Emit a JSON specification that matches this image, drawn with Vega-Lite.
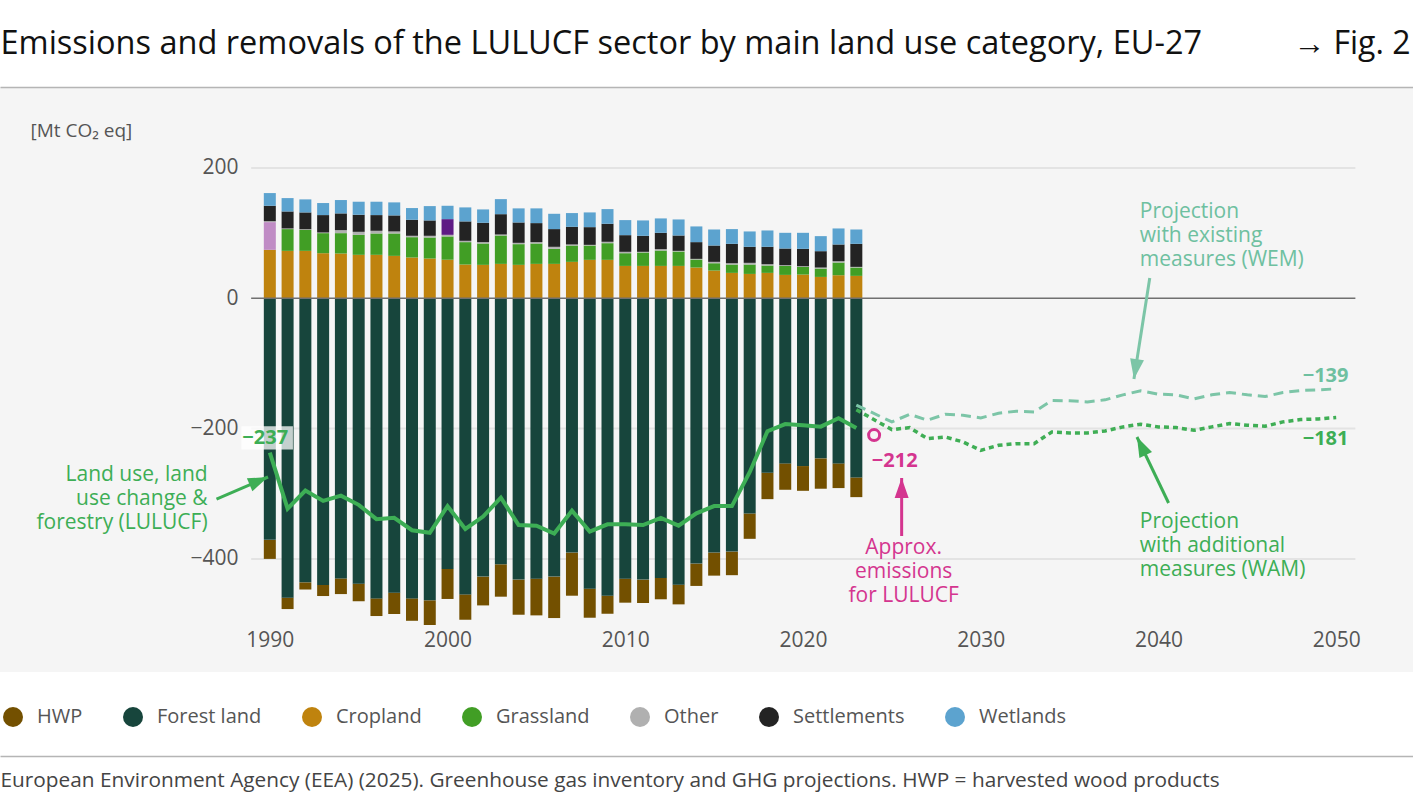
{
  "$schema": "https://vega.github.io/schema/vega-lite/v6.json",
  "width": 1413,
  "height": 585,
  "autosize": {"type": "none"},
  "padding": {"left": 0, "top": 87, "right": 0, "bottom": 135},
  "background": "#ffffff",
  "config": {"font": "Open Sans", "view": {"fill": "#f5f5f5", "stroke": null}},
  "datasets": {
    "sectors": [
      {"year":1990,"category":"HWP","value":-29.2},{"year":1990,"category":"Forest land","value":-370.8},{"year":1990,"category":"Cropland","value":74.4},{"year":1990,"category":"Grassland (selected)","value":42.5},{"year":1990,"category":"Other","value":1.5},{"year":1990,"category":"Settlements","value":23.6},{"year":1990,"category":"Wetlands","value":19.5},
      {"year":1991,"category":"HWP","value":-17.5},{"year":1991,"category":"Forest land","value":-459.5},{"year":1991,"category":"Cropland","value":72.8},{"year":1991,"category":"Grassland","value":33.4},{"year":1991,"category":"Other","value":1},{"year":1991,"category":"Settlements","value":26.1},{"year":1991,"category":"Wetlands","value":20.5},
      {"year":1992,"category":"HWP","value":-11},{"year":1992,"category":"Forest land","value":-436},{"year":1992,"category":"Cropland","value":72.8},{"year":1992,"category":"Grassland","value":32.2},{"year":1992,"category":"Other","value":1},{"year":1992,"category":"Settlements","value":25.8},{"year":1992,"category":"Wetlands","value":20},
      {"year":1993,"category":"HWP","value":-17},{"year":1993,"category":"Forest land","value":-440},{"year":1993,"category":"Cropland","value":69.2},{"year":1993,"category":"Grassland","value":30.8},{"year":1993,"category":"Other","value":1},{"year":1993,"category":"Settlements","value":26.7},{"year":1993,"category":"Wetlands","value":18.5},
      {"year":1994,"category":"HWP","value":-24},{"year":1994,"category":"Forest land","value":-430},{"year":1994,"category":"Cropland","value":68.7},{"year":1994,"category":"Grassland","value":31.3},{"year":1994,"category":"Other","value":4.6},{"year":1994,"category":"Settlements","value":25.7},{"year":1994,"category":"Wetlands","value":20.5},
      {"year":1995,"category":"HWP","value":-27},{"year":1995,"category":"Forest land","value":-438},{"year":1995,"category":"Cropland","value":66.7},{"year":1995,"category":"Grassland","value":30.7},{"year":1995,"category":"Other","value":4.6},{"year":1995,"category":"Settlements","value":26.2},{"year":1995,"category":"Wetlands","value":20},
      {"year":1996,"category":"HWP","value":-27.1},{"year":1996,"category":"Forest land","value":-460.6},{"year":1996,"category":"Cropland","value":66.7},{"year":1996,"category":"Grassland","value":32.8},{"year":1996,"category":"Other","value":4.1},{"year":1996,"category":"Settlements","value":24.1},{"year":1996,"category":"Wetlands","value":20.5},
      {"year":1997,"category":"HWP","value":-32.8},{"year":1997,"category":"Forest land","value":-451.8},{"year":1997,"category":"Cropland","value":65.1},{"year":1997,"category":"Grassland","value":34.4},{"year":1997,"category":"Other","value":3.1},{"year":1997,"category":"Settlements","value":24.6},{"year":1997,"category":"Wetlands","value":20},
      {"year":1998,"category":"HWP","value":-34.4},{"year":1998,"category":"Forest land","value":-460.6},{"year":1998,"category":"Cropland","value":62.6},{"year":1998,"category":"Grassland","value":31.2},{"year":1998,"category":"Other","value":2.1},{"year":1998,"category":"Settlements","value":24.6},{"year":1998,"category":"Wetlands","value":18},
      {"year":1999,"category":"HWP","value":-37.9},{"year":1999,"category":"Forest land","value":-463.6},{"year":1999,"category":"Cropland","value":61},{"year":1999,"category":"Grassland","value":32.3},{"year":1999,"category":"Other","value":2.6},{"year":1999,"category":"Settlements","value":23.6},{"year":1999,"category":"Wetlands","value":22},
      {"year":2000,"category":"HWP","value":-46.1},{"year":2000,"category":"Forest land","value":-415.4},{"year":2000,"category":"Cropland","value":59.2},{"year":2000,"category":"Grassland","value":35.7},{"year":2000,"category":"Other","value":2.5},{"year":2000,"category":"Settlements (selected)","value":24.1},{"year":2000,"category":"Wetlands","value":20.5},
      {"year":2001,"category":"HWP","value":-38.9},{"year":2001,"category":"Forest land","value":-454.5},{"year":2001,"category":"Cropland","value":51.8},{"year":2001,"category":"Grassland","value":34.4},{"year":2001,"category":"Other","value":2},{"year":2001,"category":"Settlements","value":29.8},{"year":2001,"category":"Wetlands","value":21.5},
      {"year":2002,"category":"HWP","value":-44.2},{"year":2002,"category":"Forest land","value":-427.2},{"year":2002,"category":"Cropland","value":51.3},{"year":2002,"category":"Grassland","value":32.8},{"year":2002,"category":"Other","value":2.1},{"year":2002,"category":"Settlements","value":29.7},{"year":2002,"category":"Wetlands","value":20.5},
      {"year":2003,"category":"HWP","value":-49.7},{"year":2003,"category":"Forest land","value":-408.3},{"year":2003,"category":"Cropland","value":52.8},{"year":2003,"category":"Grassland","value":43.6},{"year":2003,"category":"Other","value":1.5},{"year":2003,"category":"Settlements","value":31.2},{"year":2003,"category":"Wetlands","value":23.1},
      {"year":2004,"category":"HWP","value":-53.9},{"year":2004,"category":"Forest land","value":-431.8},{"year":2004,"category":"Cropland","value":51.3},{"year":2004,"category":"Grassland","value":31.8},{"year":2004,"category":"Other","value":2},{"year":2004,"category":"Settlements","value":31.3},{"year":2004,"category":"Wetlands","value":21.6},
      {"year":2005,"category":"HWP","value":-56.4},{"year":2005,"category":"Forest land","value":-430.3},{"year":2005,"category":"Cropland","value":52.8},{"year":2005,"category":"Grassland","value":31.3},{"year":2005,"category":"Other","value":2.1},{"year":2005,"category":"Settlements","value":29.2},{"year":2005,"category":"Wetlands","value":22.6},
      {"year":2006,"category":"HWP","value":-63.6},{"year":2006,"category":"Forest land","value":-427.2},{"year":2006,"category":"Cropland","value":52.8},{"year":2006,"category":"Grassland","value":23.1},{"year":2006,"category":"Other","value":3.1},{"year":2006,"category":"Settlements","value":27.2},{"year":2006,"category":"Wetlands","value":23.5},
      {"year":2007,"category":"HWP","value":-66.2},{"year":2007,"category":"Forest land","value":-390.3},{"year":2007,"category":"Cropland","value":55.9},{"year":2007,"category":"Grassland","value":25.1},{"year":2007,"category":"Other","value":1.6},{"year":2007,"category":"Settlements","value":27.1},{"year":2007,"category":"Wetlands","value":21.1},
      {"year":2008,"category":"HWP","value":-44.6},{"year":2008,"category":"Forest land","value":-445.7},{"year":2008,"category":"Cropland","value":59},{"year":2008,"category":"Grassland","value":22},{"year":2008,"category":"Other","value":1},{"year":2008,"category":"Settlements","value":27.2},{"year":2008,"category":"Wetlands","value":22.6},
      {"year":2009,"category":"HWP","value":-27.7},{"year":2009,"category":"Forest land","value":-456.5},{"year":2009,"category":"Cropland","value":59},{"year":2009,"category":"Grassland","value":25.6},{"year":2009,"category":"Other","value":2.1},{"year":2009,"category":"Settlements","value":27.7},{"year":2009,"category":"Wetlands","value":22.5},
      {"year":2010,"category":"HWP","value":-36.9},{"year":2010,"category":"Forest land","value":-430.3},{"year":2010,"category":"Cropland","value":49.7},{"year":2010,"category":"Grassland","value":19.5},{"year":2010,"category":"Other","value":2.1},{"year":2010,"category":"Settlements","value":25.6},{"year":2010,"category":"Wetlands","value":23.1},
      {"year":2011,"category":"HWP","value":-35.9},{"year":2011,"category":"Forest land","value":-431.8},{"year":2011,"category":"Cropland","value":49.7},{"year":2011,"category":"Grassland","value":20.6},{"year":2011,"category":"Other","value":1},{"year":2011,"category":"Settlements","value":24.6},{"year":2011,"category":"Wetlands","value":23.6},
      {"year":2012,"category":"HWP","value":-32.7},{"year":2012,"category":"Forest land","value":-429.3},{"year":2012,"category":"Cropland","value":49.7},{"year":2012,"category":"Grassland","value":23.6},{"year":2012,"category":"Other","value":2.1},{"year":2012,"category":"Settlements","value":25.1},{"year":2012,"category":"Wetlands","value":22.1},
      {"year":2013,"category":"HWP","value":-30.3},{"year":2013,"category":"Forest land","value":-439.5},{"year":2013,"category":"Cropland","value":49.7},{"year":2013,"category":"Grassland","value":22.1},{"year":2013,"category":"Other","value":1},{"year":2013,"category":"Settlements","value":23.6},{"year":2013,"category":"Wetlands","value":24.6},
      {"year":2014,"category":"HWP","value":-34.3},{"year":2014,"category":"Forest land","value":-407.2},{"year":2014,"category":"Cropland","value":47.2},{"year":2014,"category":"Grassland","value":12.3},{"year":2014,"category":"Other","value":1},{"year":2014,"category":"Settlements","value":25.7},{"year":2014,"category":"Wetlands","value":24.1},
      {"year":2015,"category":"HWP","value":-35.4},{"year":2015,"category":"Forest land","value":-390.3},{"year":2015,"category":"Cropland","value":42.6},{"year":2015,"category":"Grassland","value":11.2},{"year":2015,"category":"Other","value":2.1},{"year":2015,"category":"Settlements","value":25.1},{"year":2015,"category":"Wetlands","value":24.6},
      {"year":2016,"category":"HWP","value":-36.2},{"year":2016,"category":"Forest land","value":-388.8},{"year":2016,"category":"Cropland","value":39},{"year":2016,"category":"Grassland","value":12.8},{"year":2016,"category":"Other","value":2},{"year":2016,"category":"Settlements","value":29.8},{"year":2016,"category":"Wetlands","value":22.6},
      {"year":2017,"category":"HWP","value":-38.9},{"year":2017,"category":"Forest land","value":-330.3},{"year":2017,"category":"Cropland","value":37.4},{"year":2017,"category":"Grassland","value":14.4},{"year":2017,"category":"Other","value":2.6},{"year":2017,"category":"Settlements","value":24.6},{"year":2017,"category":"Wetlands","value":23.6},
      {"year":2018,"category":"HWP","value":-40.6},{"year":2018,"category":"Forest land","value":-267.7},{"year":2018,"category":"Cropland","value":39},{"year":2018,"category":"Grassland","value":11.3},{"year":2018,"category":"Other","value":2},{"year":2018,"category":"Settlements","value":26.7},{"year":2018,"category":"Wetlands","value":25.1},
      {"year":2019,"category":"HWP","value":-40.5},{"year":2019,"category":"Forest land","value":-253.4},{"year":2019,"category":"Cropland","value":35.9},{"year":2019,"category":"Grassland","value":13.8},{"year":2019,"category":"Other","value":1.1},{"year":2019,"category":"Settlements","value":25.6},{"year":2019,"category":"Wetlands","value":24.1},
      {"year":2020,"category":"HWP","value":-38},{"year":2020,"category":"Forest land","value":-257.5},{"year":2020,"category":"Cropland","value":36.4},{"year":2020,"category":"Grassland","value":11.8},{"year":2020,"category":"Other","value":1},{"year":2020,"category":"Settlements","value":26.7},{"year":2020,"category":"Wetlands","value":24.6},
      {"year":2021,"category":"HWP","value":-46.6},{"year":2021,"category":"Forest land","value":-245.7},{"year":2021,"category":"Cropland","value":32.8},{"year":2021,"category":"Grassland","value":12.8},{"year":2021,"category":"Other","value":1.6},{"year":2021,"category":"Settlements","value":25.1},{"year":2021,"category":"Wetlands","value":23.1},
      {"year":2022,"category":"HWP","value":-37.9},{"year":2022,"category":"Forest land","value":-253.4},{"year":2022,"category":"Cropland","value":35.4},{"year":2022,"category":"Grassland","value":19.5},{"year":2022,"category":"Other","value":2},{"year":2022,"category":"Settlements","value":25.7},{"year":2022,"category":"Wetlands","value":24.6},
      {"year":2023,"category":"HWP","value":-30.2},{"year":2023,"category":"Forest land","value":-275},{"year":2023,"category":"Cropland","value":34.4},{"year":2023,"category":"Grassland","value":12.8},{"year":2023,"category":"Other","value":1},{"year":2023,"category":"Settlements","value":35.4},{"year":2023,"category":"Wetlands","value":22}
    ],
    "lulucf": [
      {"year":1990,"value":-237},{"year":1991,"value":-323},{"year":1992,"value":-295},{"year":1993,"value":-311},{"year":1994,"value":-303},{"year":1995,"value":-317},{"year":1996,"value":-339},{"year":1997,"value":-337},{"year":1998,"value":-356},{"year":1999,"value":-360},{"year":2000,"value":-319},{"year":2001,"value":-354},{"year":2002,"value":-335},{"year":2003,"value":-306},{"year":2004,"value":-348},{"year":2005,"value":-349},{"year":2006,"value":-361},{"year":2007,"value":-326},{"year":2008,"value":-358},{"year":2009,"value":-347},{"year":2010,"value":-347},{"year":2011,"value":-348},{"year":2012,"value":-337},{"year":2013,"value":-349},{"year":2014,"value":-330},{"year":2015,"value":-319},{"year":2016,"value":-319},{"year":2017,"value":-267},{"year":2018,"value":-204},{"year":2019,"value":-193},{"year":2020,"value":-195},{"year":2021,"value":-197},{"year":2022,"value":-184},{"year":2023,"value":-199}
    ],
    "projections": [
      {"year":2023,"scenario":"WEM","value":-164},{"year":2025,"scenario":"WEM","value":-189.8},{"year":2026,"scenario":"WEM","value":-178},{"year":2027,"scenario":"WEM","value":-187.2},{"year":2028,"scenario":"WEM","value":-178},{"year":2029,"scenario":"WEM","value":-179.5},{"year":2030,"scenario":"WEM","value":-183.6},{"year":2031,"scenario":"WEM","value":-176.4},{"year":2032,"scenario":"WEM","value":-173.3},{"year":2033,"scenario":"WEM","value":-174.4},{"year":2034,"scenario":"WEM","value":-156.9},{"year":2035,"scenario":"WEM","value":-157.4},{"year":2036,"scenario":"WEM","value":-159},{"year":2037,"scenario":"WEM","value":-155.9},{"year":2038,"scenario":"WEM","value":-148.2},{"year":2039,"scenario":"WEM","value":-142},{"year":2040,"scenario":"WEM","value":-147.2},{"year":2041,"scenario":"WEM","value":-148.2},{"year":2042,"scenario":"WEM","value":-154.4},{"year":2043,"scenario":"WEM","value":-148.2},{"year":2044,"scenario":"WEM","value":-144.6},{"year":2045,"scenario":"WEM","value":-148.2},{"year":2046,"scenario":"WEM","value":-150.8},{"year":2047,"scenario":"WEM","value":-144.6},{"year":2048,"scenario":"WEM","value":-141.5},{"year":2049,"scenario":"WEM","value":-140.5},{"year":2050,"scenario":"WEM","value":-139},
      {"year":2023,"scenario":"WAM","value":-171},{"year":2025,"scenario":"WAM","value":-201.6},{"year":2026,"scenario":"WAM","value":-198.5},{"year":2027,"scenario":"WAM","value":-215.4},{"year":2028,"scenario":"WAM","value":-212.9},{"year":2029,"scenario":"WAM","value":-220.5},{"year":2030,"scenario":"WAM","value":-233.4},{"year":2031,"scenario":"WAM","value":-225.7},{"year":2032,"scenario":"WAM","value":-223.1},{"year":2033,"scenario":"WAM","value":-223.1},{"year":2034,"scenario":"WAM","value":-205.2},{"year":2035,"scenario":"WAM","value":-206.7},{"year":2036,"scenario":"WAM","value":-206.7},{"year":2037,"scenario":"WAM","value":-203.6},{"year":2038,"scenario":"WAM","value":-197.4},{"year":2039,"scenario":"WAM","value":-193.3},{"year":2040,"scenario":"WAM","value":-197.4},{"year":2041,"scenario":"WAM","value":-198.5},{"year":2042,"scenario":"WAM","value":-202.6},{"year":2043,"scenario":"WAM","value":-197.4},{"year":2044,"scenario":"WAM","value":-192.3},{"year":2045,"scenario":"WAM","value":-194.9},{"year":2046,"scenario":"WAM","value":-196.4},{"year":2047,"scenario":"WAM","value":-189.7},{"year":2048,"scenario":"WAM","value":-186.1},{"year":2049,"scenario":"WAM","value":-185.1},{"year":2050,"scenario":"WAM","value":-183}
    ],
    "notes": [
      {"id":"lulucf","year":1986.5,"value":-271.2,"label":"Land use, land\nuse change &\nforestry (LULUCF)"},
      {"id":"wem","year":2038.95,"value":132.5,"label":"Projection\nwith existing\nmeasures (WEM)"},
      {"id":"wam","year":2038.95,"value":-343.4,"label":"Projection\nwith additional\nmeasures (WAM)"},
      {"id":"approx","year":2025.66,"value":-383.3,"label":"Approx.\nemissions\nfor LULUCF"},
      {"id":"v1990","year":1989.74,"value":-214.4,"label":"−237"},
      {"id":"vwem","year":2050.69,"value":-119.3,"label":"−139"},
      {"id":"vwam","year":2050.69,"value":-216,"label":"−181"},
      {"id":"v2024","year":2025.16,"value":-249.7,"label":"−212"}
    ],
    "arrows": [
      {"id":"lulucf","year":1987.0,"value":-308.1,"tipYear":1989.9,"tipValue":-274.3},
      {"id":"wem","year":2039.51,"value":31.2,"tipYear":2038.62,"tipValue":-123.9},
      {"id":"wam","year":2040.57,"value":-314.2,"tipYear":2038.79,"tipValue":-212.9},
      {"id":"approx","year":2025.55,"value":-364.9,"tipYear":2025.55,"tipValue":-275.8}
    ],
    "approxPoint": [{"year":2024,"value":-210}]
  },
  "layer": [
    {
      "data": {"values": [{"value":200},{"value":-200},{"value":-400}]},
      "mark": {"type":"rule","color":"#e3e3e3","strokeWidth":2},
      "encoding": {
        "y": {"field":"value","type":"quantitative","axis":null},
        "x": {"datum":1988.95,"type":"quantitative","axis":null},
        "x2": {"datum":2051.08}
      }
    },
    {
      "data": {"name":"sectors"},
      "transform": [{"calculate":"indexof(['Forest land','HWP','Cropland','Grassland','Grassland (selected)','Other','Settlements','Settlements (selected)','Wetlands'], datum.category)","as":"stackOrder"}],
      "mark": {"type":"bar","width":12,"opacity":1},
      "encoding": {
        "x": {"field":"year","type":"quantitative","scale":{"domain":[1975.1,2054.04],"nice":false,"zero":false},
              "axis":{"orient":"bottom","offset":-32,"values":[1990,2000,2010,2020,2030,2040,2050],"format":"d","labelFontSize":21,"labelColor":"#555555","labelPadding":0,"labelBaseline":"middle","labelFlush":false,"ticks":false,"domain":false,"grid":false,"title":null}},
        "y": {"field":"value","type":"quantitative","stack":"zero","scale":{"domain":[-573.6,324.3],"nice":false,"zero":false},
              "axis":{"orient":"left","offset":-245,"values":[200,0,-200,-400],"format":"d","labelFontSize":21,"labelColor":"#555555","labelPadding":7,"ticks":false,"domain":false,"grid":false,"title":"[Mt CO₂ eq]","titleAngle":0,"titleX":-215,"titleY":43,"titleAlign":"left","titleBaseline":"middle","titleFontSize":19,"titleFontWeight":"normal","titleColor":"#555555"}},
        "color": {"field":"category","type":"nominal",
                  "scale":{"domain":["HWP","Forest land","Cropland","Grassland","Other","Settlements","Wetlands","Grassland (selected)","Settlements (selected)"],
                           "range":["#735000","#17453c","#bf830e","#419e25","#b0b0b0","#232323","#5ca3cf","#c08cc5","#5e1a84"]},
                  "legend":{"orient":"none","legendX":3,"legendY":620,"direction":"horizontal","title":null,"symbolType":"circle","symbolSize":400,"symbolStrokeWidth":0,"labelFontSize":20,"labelColor":"#555555","columnPadding":40,"labelOffset":14,
                            "values":["HWP","Forest land","Cropland","Grassland","Other","Settlements","Wetlands"]}},
        "order": {"field":"stackOrder","type":"quantitative"}
      }
    },
    {
      "data": {"values": [{}]},
      "mark": {"type":"rule","color":"#707070","strokeWidth":1.5},
      "encoding": {
        "y": {"datum":0,"type":"quantitative","axis":null},
        "x": {"datum":1988.95,"type":"quantitative","axis":null},
        "x2": {"datum":2051.08}
      }
    },
    {
      "data": {"name":"lulucf"},
      "mark": {"type":"line","color":"#3dae55","strokeWidth":4},
      "encoding": {
        "x": {"field":"year","type":"quantitative",
              "axis":{"orient":"top","offset":0,"labels":false,"ticks":false,"grid":false,"domain":true,"domainColor":"#b5b5b5","domainWidth":1.5,"title":"Emissions and removals of the LULUCF sector by main land use category, EU-27","titleX":0,"titleY":-44,"titleAlign":"left","titleAnchor":"start","titleBaseline":"middle","titleFontSize":32.5,"titleFontWeight":"normal","titleColor":"#111111"}},
        "y": {"field":"value","type":"quantitative",
              "axis":{"orient":"right","labels":false,"ticks":false,"grid":false,"domain":false,"title":"→ Fig. 2","titleAngle":0,"titleX":-3,"titleY":-44,"titleAlign":"right","titleBaseline":"middle","titleFontSize":32,"titleFontWeight":"normal","titleColor":"#111111"}}
      }
    },
    {
      "data": {"name":"projections"},
      "transform": [{"filter":"datum.scenario === 'WEM'"}],
      "mark": {"type":"line","color":"#7cc5a7","strokeWidth":3,"strokeDash":[10,6]},
      "encoding": {
        "x": {"field":"year","type":"quantitative",
              "axis":{"orient":"bottom","offset":84,"labels":false,"ticks":false,"grid":false,"domain":true,"domainColor":"#b5b5b5","domainWidth":1.5,"title":"European Environment Agency (EEA) (2025). Greenhouse gas inventory and GHG projections. HWP = harvested wood products","titleX":0,"titleY":24,"titleAlign":"left","titleAnchor":"start","titleBaseline":"middle","titleFontSize":20.8,"titleFontWeight":"normal","titleColor":"#444444"}},
        "y": {"field":"value","type":"quantitative","axis":null}
      }
    },
    {
      "data": {"name":"projections"},
      "transform": [{"filter":"datum.scenario === 'WAM'"}],
      "mark": {"type":"line","color":"#3fae55","strokeWidth":3.5,"strokeDash":[5,4]},
      "encoding": {
        "x": {"field":"year","type":"quantitative","axis":null},
        "y": {"field":"value","type":"quantitative","axis":null}
      }
    },
    {
      "data": {"values": [{}]},
      "mark": {"type":"rect","fill":"#ffffff","opacity":0.75},
      "encoding": {
        "x": {"datum":1988.4,"type":"quantitative","axis":null},
        "x2": {"datum":1991.3},
        "y": {"datum":-196.3,"type":"quantitative","axis":null},
        "y2": {"datum":-232.1}
      }
    },
    {
      "data": {"name":"notes"},
      "transform": [{"filter":"datum.id === 'lulucf'"}],
      "mark": {"type":"text","color":"#3dae55","fontSize":21,"align":"right","baseline":"middle","lineBreak":"\n","lineHeight":24},
      "encoding": {"x":{"field":"year","type":"quantitative","axis":null},"y":{"field":"value","type":"quantitative","axis":null},"text":{"field":"label"}}
    },
    {
      "data": {"name":"notes"},
      "transform": [{"filter":"datum.id === 'wam'"}],
      "mark": {"type":"text","color":"#3dae55","fontSize":21,"align":"left","baseline":"middle","lineBreak":"\n","lineHeight":24},
      "encoding": {"x":{"field":"year","type":"quantitative","axis":null},"y":{"field":"value","type":"quantitative","axis":null},"text":{"field":"label"}}
    },
    {
      "data": {"name":"notes"},
      "transform": [{"filter":"datum.id === 'wem'"}],
      "mark": {"type":"text","color":"#6ec0a0","fontSize":21,"align":"left","baseline":"middle","lineBreak":"\n","lineHeight":24},
      "encoding": {"x":{"field":"year","type":"quantitative","axis":null},"y":{"field":"value","type":"quantitative","axis":null},"text":{"field":"label"}}
    },
    {
      "data": {"name":"notes"},
      "transform": [{"filter":"datum.id === 'approx'"}],
      "mark": {"type":"text","color":"#d4358f","fontSize":21,"align":"center","baseline":"middle","lineBreak":"\n","lineHeight":24},
      "encoding": {"x":{"field":"year","type":"quantitative","axis":null},"y":{"field":"value","type":"quantitative","axis":null},"text":{"field":"label"}}
    },
    {
      "data": {"name":"notes"},
      "transform": [{"filter":"datum.id === 'v1990'"}],
      "mark": {"type":"text","color":"#3dae55","fontSize":20,"fontWeight":"bold","align":"center","baseline":"middle"},
      "encoding": {"x":{"field":"year","type":"quantitative","axis":null},"y":{"field":"value","type":"quantitative","axis":null},"text":{"field":"label"}}
    },
    {
      "data": {"name":"notes"},
      "transform": [{"filter":"datum.id === 'vwam'"}],
      "mark": {"type":"text","color":"#3dae55","fontSize":20,"fontWeight":"bold","align":"right","baseline":"middle"},
      "encoding": {"x":{"field":"year","type":"quantitative","axis":null},"y":{"field":"value","type":"quantitative","axis":null},"text":{"field":"label"}}
    },
    {
      "data": {"name":"notes"},
      "transform": [{"filter":"datum.id === 'vwem'"}],
      "mark": {"type":"text","color":"#6ec0a0","fontSize":20,"fontWeight":"bold","align":"right","baseline":"middle"},
      "encoding": {"x":{"field":"year","type":"quantitative","axis":null},"y":{"field":"value","type":"quantitative","axis":null},"text":{"field":"label"}}
    },
    {
      "data": {"name":"notes"},
      "transform": [{"filter":"datum.id === 'v2024'"}],
      "mark": {"type":"text","color":"#d4358f","fontSize":20,"fontWeight":"bold","align":"center","baseline":"middle"},
      "encoding": {"x":{"field":"year","type":"quantitative","axis":null},"y":{"field":"value","type":"quantitative","axis":null},"text":{"field":"label"}}
    },
    {
      "data": {"name":"arrows"},
      "transform": [{"filter":"datum.id === 'lulucf'"}],
      "layer": [
        {"mark":{"type":"rule","color":"#3dae55","strokeWidth":3},
         "encoding":{"x":{"field":"year","type":"quantitative","axis":null},"y":{"field":"value","type":"quantitative","axis":null},"x2":{"field":"tipYear"},"y2":{"field":"tipValue"}}},
        {"mark":{"type":"point","shape":"M0,0L-0.7,2L0.7,2Z","size":400,"filled":true,"opacity":1,"color":"#3dae55","angle":67},
         "encoding":{"x":{"field":"tipYear","type":"quantitative","axis":null},"y":{"field":"tipValue","type":"quantitative","axis":null}}}
      ]
    },
    {
      "data": {"name":"arrows"},
      "transform": [{"filter":"datum.id === 'wem'"}],
      "layer": [
        {"mark":{"type":"rule","color":"#7cc5a7","strokeWidth":3},
         "encoding":{"x":{"field":"year","type":"quantitative","axis":null},"y":{"field":"value","type":"quantitative","axis":null},"x2":{"field":"tipYear"},"y2":{"field":"tipValue"}}},
        {"mark":{"type":"point","shape":"M0,0L-0.7,2L0.7,2Z","size":400,"filled":true,"opacity":1,"color":"#7cc5a7","angle":189},
         "encoding":{"x":{"field":"tipYear","type":"quantitative","axis":null},"y":{"field":"tipValue","type":"quantitative","axis":null}}}
      ]
    },
    {
      "data": {"name":"arrows"},
      "transform": [{"filter":"datum.id === 'wam'"}],
      "layer": [
        {"mark":{"type":"rule","color":"#3dae55","strokeWidth":3},
         "encoding":{"x":{"field":"year","type":"quantitative","axis":null},"y":{"field":"value","type":"quantitative","axis":null},"x2":{"field":"tipYear"},"y2":{"field":"tipValue"}}},
        {"mark":{"type":"point","shape":"M0,0L-0.7,2L0.7,2Z","size":400,"filled":true,"opacity":1,"color":"#3dae55","angle":334},
         "encoding":{"x":{"field":"tipYear","type":"quantitative","axis":null},"y":{"field":"tipValue","type":"quantitative","axis":null}}}
      ]
    },
    {
      "data": {"name":"arrows"},
      "transform": [{"filter":"datum.id === 'approx'"}],
      "layer": [
        {"mark":{"type":"rule","color":"#d4358f","strokeWidth":3},
         "encoding":{"x":{"field":"year","type":"quantitative","axis":null},"y":{"field":"value","type":"quantitative","axis":null},"x2":{"field":"tipYear"},"y2":{"field":"tipValue"}}},
        {"mark":{"type":"point","shape":"M0,0L-0.7,2L0.7,2Z","size":400,"filled":true,"opacity":1,"color":"#d4358f","angle":0},
         "encoding":{"x":{"field":"tipYear","type":"quantitative","axis":null},"y":{"field":"tipValue","type":"quantitative","axis":null}}}
      ]
    },
    {
      "data": {"name":"approxPoint"},
      "mark": {"type":"point","shape":"circle","size":121,"filled":false,"opacity":1,"stroke":"#d4358f","strokeWidth":3},
      "encoding": {"x":{"field":"year","type":"quantitative","axis":null},"y":{"field":"value","type":"quantitative","axis":null}}
    }
  ],
  "resolve": {"axis": {"x":"independent","y":"independent"}}
}
